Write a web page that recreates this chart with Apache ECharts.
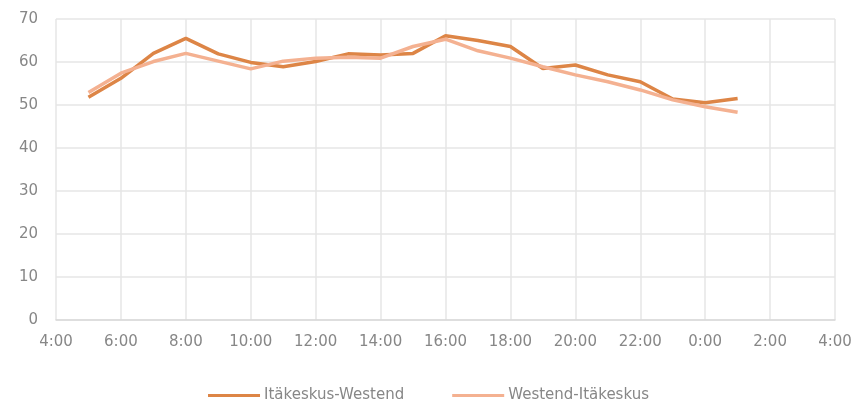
<!DOCTYPE html>
<html>
<head>
<meta charset="utf-8">
<script src="https://cdn.jsdelivr.net/npm/echarts@6/dist/echarts.min.js"></script>
<style>
html, body { margin: 0; padding: 0; background: #fff; }
#chart { width: 857px; height: 401px; }
</style>
</head>
<body>
<div id="chart"></div>
<script>
// hours (5:00 .. 1:00 next day, 25 = 1:00)
const hours = [5, 6, 7, 8, 9, 10, 11, 12, 13, 14, 15, 16, 17, 18, 19, 20, 21, 22, 23, 24, 25];
const itakeskusWestend = [51.8, 56.2, 62.0, 65.5, 61.9, 59.9, 58.9, 60.1, 61.9, 61.6, 62.0, 66.1, 65.0, 63.6, 58.5, 59.3, 57.0, 55.4, 51.4, 50.5, 51.5];
const westendItakeskus = [52.9, 57.4, 60.1, 62.0, 60.2, 58.4, 60.2, 60.9, 61.1, 60.9, 63.6, 65.3, 62.6, 60.9, 58.9, 57.0, 55.4, 53.5, 51.2, 49.6, 48.3];
const seriesNames = ['Itäkeskus-Westend', 'Westend-Itäkeskus'];
const colors = ['#DD8546', '#F4B191'];

const font = '"DejaVu Sans", sans-serif';
const textColor = '#878787';
const toPairs = vals => hours.map((h, i) => [h, vals[i]]);

const chart = echarts.init(document.getElementById('chart'));
chart.setOption({
    animation: false,
    color: colors,
    grid: { left: 56, right: 22, top: 19, bottom: 81 },
    legend: {
        top: 383,
        left: 'center',
        itemWidth: 52,
        itemHeight: 3,
        itemGap: 48,
        icon: 'rect',
        textStyle: { color: textColor, fontSize: 15, fontFamily: font, padding: [0, 0, 0, -1] },
        data: seriesNames
    },
    xAxis: {
        type: 'value',
        min: 4,
        max: 28,
        interval: 2,
        axisLine: { show: true, lineStyle: { color: '#d9d9d9', width: 1.5 } },
        axisTick: { show: false },
        splitLine: { show: true, lineStyle: { color: '#e6e6e6', width: 1.5 } },
        axisLabel: {
            color: textColor,
            fontSize: 15,
            fontFamily: font,
            margin: 15,
            formatter: v => (v % 24) + ':00'
        }
    },
    yAxis: {
        type: 'value',
        min: 0,
        max: 70,
        interval: 10,
        axisLine: { show: false },
        axisTick: { show: false },
        splitLine: { lineStyle: { color: '#e6e6e6', width: 1.5 } },
        axisLabel: { color: textColor, fontSize: 15, fontFamily: font, margin: 18 }
    },
    series: [
        {
            name: seriesNames[0],
            type: 'line',
            data: toPairs(itakeskusWestend),
            symbol: 'none',
            lineStyle: { width: 3.5, color: colors[0] },
            z: 3
        },
        {
            name: seriesNames[1],
            type: 'line',
            data: toPairs(westendItakeskus),
            symbol: 'none',
            lineStyle: { width: 3.5, color: colors[1] },
            z: 4
        }
    ]
});
</script>
</body>
</html>
